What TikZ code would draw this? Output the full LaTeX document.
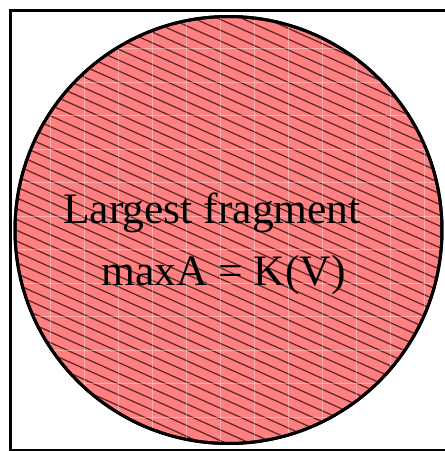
\documentclass[tikz,border=0pt]{standalone}
\usepackage{fontspec}
\setmainfont{Liberation Serif}
\usepackage{xcolor}
\definecolor{fragfill}{RGB}{255,128,128}
\definecolor{hatchline}{RGB}{100,40,40}
\usetikzlibrary{positioning}
\tikzset{
  frag_disc/.style={circle,draw=black,line width=3pt,fill=fragfill,
    minimum size=427pt,inner sep=0pt},
  frag_text/.style={anchor=base,inner sep=0pt,
    font=\fontsize{43.5}{50}\selectfont},
  hatch/.style={draw=hatchline,line width=1.3pt},
  seam/.style={draw=white,line width=0.8pt,opacity=0.35},
}

\begin{document}
\begin{tikzpicture}[x=1pt,y=-1pt]
  \clip (0,0) rectangle (445,451);
  \useasboundingbox (0,0) rectangle (445,451);
  % outer frame
  \draw[line width=3pt] (10.5,10) rectangle (470,450.5);
  % fragment disc
  \node (frag) [frag_disc] at (228.5,230) {};
  \begin{scope}
    \clip (frag.center) circle (212pt);
    \foreach \k in {-220,-209.2,...,470}
      \draw[hatch] (0,\k) -- (445,\k+200);
    \foreach \x in {16,50,...,440}
      \draw[seam] (\x,0) -- (\x,451);
    \foreach \y in {15,48.5,...,450}
      \draw[seam] (0,\y) -- (445,\y);
  \end{scope}
  \draw[line width=3pt] (frag.center) circle (213.5pt);
  % labels
  \node (lbl) [frag_text] at (212,223) {Largest fragment};
  \node (size) [frag_text] at (223.5,285) {maxA = K(V)};
\end{tikzpicture}
\end{document}
